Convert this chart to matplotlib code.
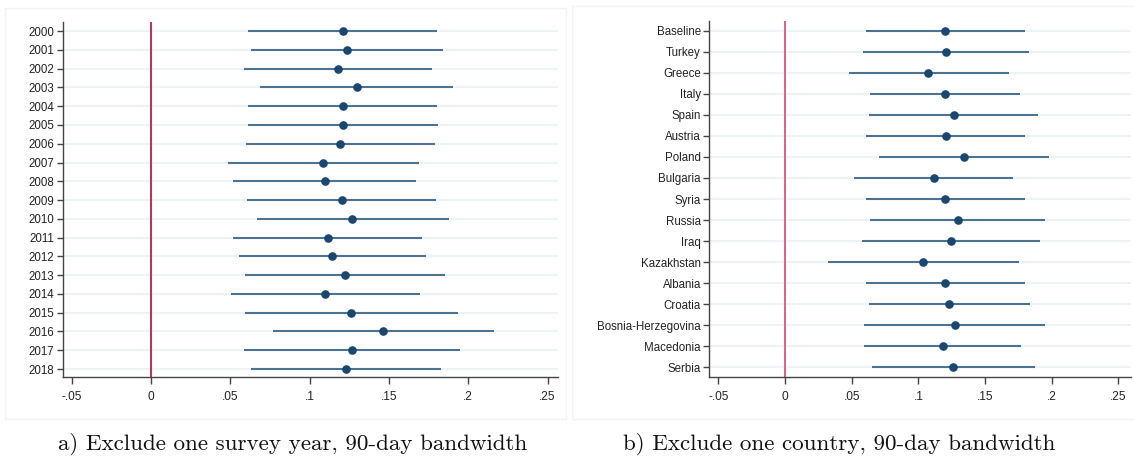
import numpy as np
import matplotlib.pyplot as plt
from matplotlib.patches import Rectangle

plt.rcParams['font.family'] = ['Liberation Sans', 'DejaVu Sans']

# panel a: exclude one survey year
years = [str(y) for y in range(2000, 2019)]
year_est = [0.1208, 0.1238, 0.1179, 0.1296, 0.1208, 0.1211, 0.1192, 0.1085, 0.1094, 0.1202,
            0.1270, 0.1115, 0.1144, 0.1225, 0.1099, 0.1263, 0.1465, 0.1266, 0.1229]
year_lo = [0.0613, 0.0629, 0.0586, 0.0686, 0.0613, 0.0613, 0.0597, 0.0485, 0.0517, 0.0608,
           0.0666, 0.0519, 0.0554, 0.0593, 0.0503, 0.0595, 0.0769, 0.0586, 0.0629]
year_hi = [0.1804, 0.1843, 0.1774, 0.1902, 0.1804, 0.1811, 0.1790, 0.1687, 0.1669, 0.1799,
           0.1880, 0.1710, 0.1735, 0.1855, 0.1696, 0.1934, 0.2163, 0.1946, 0.1831]

# panel b: exclude one country
countries = ['Baseline', 'Turkey', 'Greece', 'Italy', 'Spain', 'Austria', 'Poland', 'Bulgaria',
             'Syria', 'Russia', 'Iraq', 'Kazakhstan', 'Albania', 'Croatia',
             'Bosnia-Herzegovina', 'Macedonia', 'Serbia']
ctry_est = [0.1203, 0.1206, 0.1076, 0.1198, 0.1266, 0.1206, 0.1339, 0.1114, 0.1203, 0.1295,
            0.1241, 0.1035, 0.1203, 0.1230, 0.1271, 0.1182, 0.1263]
ctry_lo = [0.0610, 0.0585, 0.0477, 0.0640, 0.0631, 0.0610, 0.0702, 0.0518, 0.0610, 0.0640,
           0.0575, 0.0322, 0.0610, 0.0629, 0.0591, 0.0596, 0.0650]
ctry_hi = [0.1799, 0.1829, 0.1677, 0.1759, 0.1897, 0.1802, 0.1978, 0.1707, 0.1799, 0.1951,
           0.1911, 0.1751, 0.1802, 0.1837, 0.1951, 0.1770, 0.1875]

xticks = [-0.05, 0, 0.05, 0.1, 0.15, 0.2, 0.25]
xticklabels = ['-.05', '0', '.05', '.1', '.15', '.2', '.25']

W, H = 1134, 461
fig = plt.figure(figsize=(W / 100, H / 100), dpi=100)
fig.patch.set_facecolor('white')


def px_axes(x0, x1, y0, y1):
    return fig.add_axes([x0 / W, 1 - y1 / H, (x1 - x0) / W, (y1 - y0) / H])


def coefplot(ax, labels, est, lo, hi, xlim, ylim, zero_color):
    pos = np.arange(len(labels))
    for p in pos:
        ax.axhline(p, color='#e9f1f3', lw=1.2, zorder=0)
    ax.axvline(0, color=zero_color, lw=1.4, zorder=1)
    ax.hlines(pos, lo, hi, color='#4b7193', lw=1.5, zorder=2)
    ax.plot(est, pos, 'o', color='#1a476f', ms=5.2, zorder=3)
    ax.set_yticks(pos)
    ax.set_yticklabels(labels, fontsize=8.3, color='#222222')
    ax.set_xticks(xticks)
    ax.set_xticklabels(xticklabels, fontsize=8.6, color='#222222')
    ax.set_xlim(*xlim)
    ax.set_ylim(*ylim)
    for s in ['top', 'right']:
        ax.spines[s].set_visible(False)
    for s in ['left', 'bottom']:
        ax.spines[s].set_color('#444444')
        ax.spines[s].set_linewidth(1.0)
    ax.tick_params(axis='y', length=4, width=1, color='#444444', pad=2)
    ax.tick_params(axis='x', length=5, width=1, color='#444444', pad=5)


# faint graph-region frames
fig.add_artist(Rectangle((5 / W, 1 - 419 / H), 561 / W, 411 / H, transform=fig.transFigure,
                         fill=False, ec='#f3f3f3', lw=1))
fig.add_artist(Rectangle((572 / W, 1 - 419 / H), 570 / W, 413 / H, transform=fig.transFigure,
                         fill=False, ec='#f3f3f3', lw=1))

ax1 = px_axes(62.7, 558, 21.7, 377.3)
coefplot(ax1, years, year_est, year_lo, year_hi, (-0.0557, 0.2566), (18.44, -0.5), '#c42a55')

ax2 = px_axes(709.3, 1131, 20.7, 377.3)
coefplot(ax2, countries, ctry_est, ctry_lo, ctry_hi, (-0.0567, 0.2594), (16.49, -0.49), '#df5f85')

fig.text(293 / W, 1 - 444 / H, 'a) Exclude one survey year, 90-day bandwidth',
         family='cmr10', fontsize=16.6, ha='center', va='center', color='#111111')
fig.text(839 / W, 1 - 444 / H, 'b) Exclude one country, 90-day bandwidth',
         family='cmr10', fontsize=16.6, ha='center', va='center', color='#111111')

fig.savefig('out.png', dpi=100)
